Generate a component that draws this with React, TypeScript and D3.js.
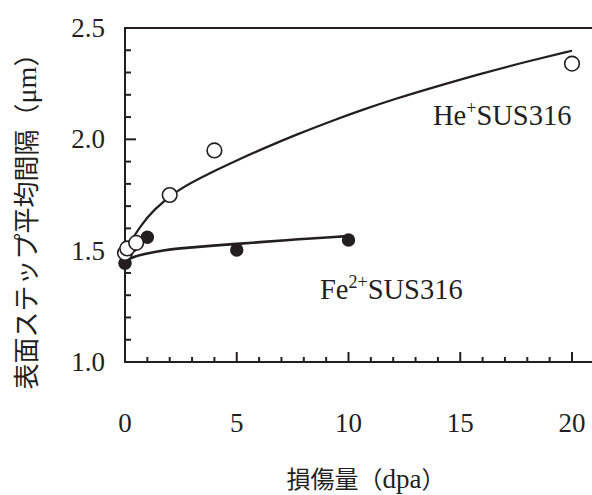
import React from "react";
import * as d3 from "d3";

// Damage (dpa) vs. mean surface step spacing (µm)
const heDose = [0, 0.1, 0.5, 2, 4, 20];
const heSpacing = [1.49, 1.51, 1.535, 1.75, 1.95, 2.34];

const feDose = [0, 1, 5, 10];
const feSpacing = [1.443, 1.56, 1.503, 1.548];

// Fitted trend lines (sampled)
const heFitDose = [0, 0.08, 0.3, 0.67, 1.27, 2.31, 3.8, 5.15, 6.19, 7.68, 9.17, 10.66, 12.16, 13.65, 15.88, 18.12, 20];
const heFitSpacing = [1.47, 1.512, 1.548, 1.608, 1.683, 1.772, 1.849, 1.912, 1.959, 2.022, 2.08, 2.134, 2.184, 2.229, 2.294, 2.353, 2.398];

const feFitDose = [0, 0.22, 0.82, 1.79, 2.31, 3.8, 6.19, 7.68, 9.62, 10];
const feFitSpacing = [1.454, 1.466, 1.485, 1.503, 1.509, 1.522, 1.539, 1.551, 1.563, 1.566];

const xMajorTicks = [0, 5, 10, 15, 20];
const yMajorTicks = [1.0, 1.5, 2.0, 2.5];

const W = 592;
const H = 495;
const serif = "Liberation Serif, DejaVu Serif, serif";
const cjk = "Noto Sans CJK JP, Noto Sans CJK SC, sans-serif";
const ink = "#231f20";

export default function App() {
  const x = d3.scaleLinear().domain([0, 20]).range([125, 572]);
  const y = d3.scaleLinear().domain([1.0, 2.5]).range([362, 28]);

  const line = d3
    .line<[number, number]>()
    .x((d) => x(d[0]))
    .y((d) => y(d[1]))
    .curve(d3.curveBasis);

  const hePath = line(heFitDose.map((d, i) => [d, heFitSpacing[i]]) as [number, number][]) || "";
  const fePath = line(feFitDose.map((d, i) => [d, feFitSpacing[i]]) as [number, number][]) || "";

  const xMinor = d3.range(1, 21).filter((v) => v % 5 !== 0);
  const yMinor = d3.range(11, 25).filter((v) => v % 5 !== 0).map((v) => v / 10);

  const x0 = x(0);
  const yBottom = y(1.0);
  const yTop = y(2.5);

  const serifStyle = { fontFamily: serif };
  const cjkStyle = { fontFamily: cjk };

  return (
    <svg
      width={W}
      height={H}
      viewBox={`0 0 ${W} ${H}`}
      style={{ position: "absolute", left: 0, top: 0, background: "#fff" }}
    >
      {/* frame */}
      <line x1={x0} y1={yTop} x2={W} y2={yTop} stroke={ink} strokeWidth={2} />
      <line x1={x0} y1={yBottom} x2={W} y2={yBottom} stroke={ink} strokeWidth={2} />
      <line x1={x0} y1={yTop - 1} x2={x0} y2={yBottom + 1} stroke={ink} strokeWidth={2} />

      {/* y ticks */}
      {yMajorTicks.slice(1, 3).map((v) => (
        <line key={"ym" + v} x1={x0} x2={x0 + 11} y1={y(v)} y2={y(v)} stroke={ink} strokeWidth={2} />
      ))}
      {yMinor.map((v) => (
        <line key={"yn" + v} x1={x0} x2={x0 + 6} y1={y(v)} y2={y(v)} stroke={ink} strokeWidth={2} />
      ))}
      {yMajorTicks.map((v) => (
        <text key={"yl" + v} x={105} y={y(v) + 9} textAnchor="end" style={serifStyle} fontSize={27} fill={ink}>
          {v.toFixed(1)}
        </text>
      ))}

      {/* x ticks */}
      {xMajorTicks.slice(1).map((v) => (
        <line key={"xm" + v} x1={x(v)} x2={x(v)} y1={yBottom} y2={yBottom - 10} stroke={ink} strokeWidth={2} />
      ))}
      {xMinor.map((v) => (
        <line key={"xn" + v} x1={x(v)} x2={x(v)} y1={yBottom} y2={yBottom - 5} stroke={ink} strokeWidth={2} />
      ))}
      {xMajorTicks.map((v) => (
        <text key={"xl" + v} x={x(v)} y={432} textAnchor="middle" style={serifStyle} fontSize={27} fill={ink}>
          {v}
        </text>
      ))}

      {/* axis titles */}
      <text x={366} y={488} textAnchor="middle" style={cjkStyle} fontSize={24} fill={ink}>
        損傷量（<tspan style={serifStyle} fontSize={27}>dpa</tspan>）
      </text>
      <text
        transform={`translate(36, 215) rotate(-90)`}
        textAnchor="middle"
        style={cjkStyle}
        fontSize={26}
        fill={ink}
      >
        表面ステップ平均間隔（<tspan style={serifStyle} fontSize={28}>μm</tspan>）
      </text>

      {/* fitted curves */}
      <path d={hePath} fill="none" stroke={ink} strokeWidth={2.2} />
      <path d={fePath} fill="none" stroke={ink} strokeWidth={2.6} />

      {/* Fe2+ points */}
      {feDose.map((d, i) => (
        <circle key={"fe" + i} cx={x(d)} cy={y(feSpacing[i])} r={6.7} fill={ink} />
      ))}

      {/* He+ points */}
      {heDose.map((d, i) => (
        <circle key={"he" + i} cx={x(d)} cy={y(heSpacing[i])} r={7.3} fill="#fff" stroke={ink} strokeWidth={1.6} />
      ))}

      {/* series labels */}
      <text x={433} y={125} style={serifStyle} fontSize={28.5} fill={ink}>
        He
        <tspan fontSize={18} dy={-11}>+</tspan>
        <tspan dy={11}>SUS316</tspan>
      </text>
      <text x={320} y={299} style={serifStyle} fontSize={28.5} fill={ink}>
        Fe
        <tspan fontSize={18} dy={-11}>2+</tspan>
        <tspan dy={11}>SUS316</tspan>
      </text>
    </svg>
  );
}
